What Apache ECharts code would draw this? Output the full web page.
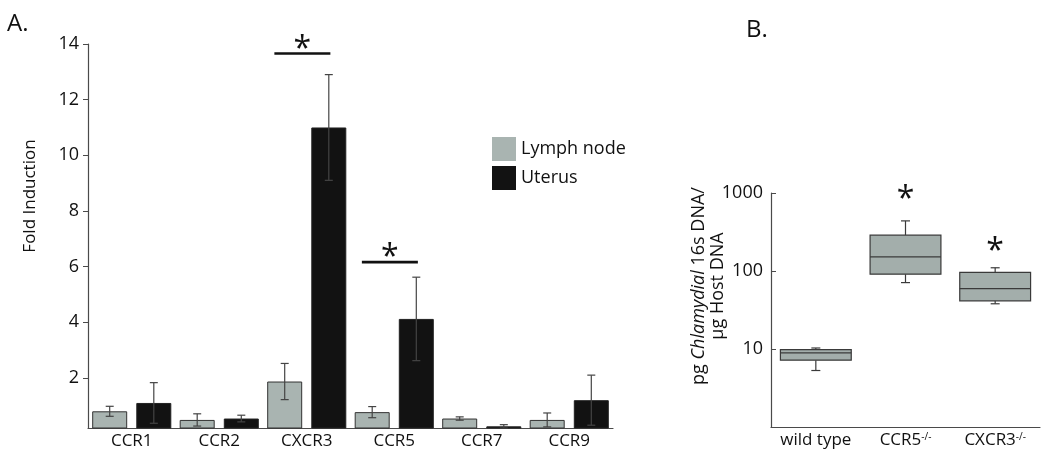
<!DOCTYPE html>
<html>
<head>
<meta charset="utf-8">
<script src="https://cdn.jsdelivr.net/npm/echarts@6/dist/echarts.min.js"></script>
<style>
  html, body { margin: 0; padding: 0; background: #fff; }
  #chart { width: 1050px; height: 469px; }
</style>
</head>
<body>
<div id="chart"></div>
<script>
// Panel A: fold induction per receptor
const receptors = ["CCR1", "CCR2", "CXCR3", "CCR5", "CCR7", "CCR9"]
const lymphNode = [0.8, 0.49, 1.87, 0.77, 0.54, 0.49]
const lymphNodeErr = [0.18, 0.22, 0.65, 0.2, 0.06, 0.25]
const uterus = [1.1, 0.54, 11.0, 4.12, 0.26, 1.2]
const uterusErr = [0.73, 0.12, 1.9, 1.5, 0.06, 0.9]
const foldTicks = [2, 4, 6, 8, 10, 12, 14]
const sigReceptor = [2, 3]
const sigLevel = [13.66, 6.16]

// Panel B: bacterial load per genotype (box plots, log scale)
const genotypes = ["wild type", "CCR5", "CXCR3"]
const genotypeSup = ["", "-/-", "-/-"]
const boxMin = [5.3, 71, 38]
const boxQ1 = [7.2, 91, 41.4]
const boxMedian = [8.9, 152, 59.4]
const boxQ3 = [9.8, 288, 96]
const boxMax = [10.3, 439, 110]
const sigGenotype = [1, 2]
const sigLoad = [1000, 215]

const FONT = "Open Sans"
const AXIS = "#4a4a4a"
const GRAY = "#a9b4b1"
const BLACK = "#121212"

const chart = echarts.init(document.getElementById("chart"))

const BAR_W = 0.4
const BAR_GAP = 0.26
const barOffset = (BAR_W * (1 + BAR_GAP)) / 2

// error bars drawn on top of bars
const errorBars = (values, errs, side, name) => ({
  type: "custom",
  name: name,
  xAxisIndex: 0,
  yAxisIndex: 0,
  z: 5,
  data: values.map((v, i) => [i, v, errs[i]]),
  renderItem: (params, api) => {
    const i = api.value(0)
    const v = api.value(1)
    const e = api.value(2)
    const bw = api.size([1, 0])[0]
    const x = api.coord([i, v])[0] + side * barOffset * bw
    const top = api.coord([i, v + e])[1]
    const bot = api.coord([i, Math.max(v - e, 0.2)])[1]
    const st = { stroke: "#444", lineWidth: 1.2 }
    return {
      type: "group",
      children: [
        { type: "line", shape: { x1: x, y1: top, x2: x, y2: bot }, style: st },
        { type: "line", shape: { x1: x - 4, y1: top, x2: x + 4, y2: top }, style: st },
        { type: "line", shape: { x1: x - 4, y1: bot, x2: x + 4, y2: bot }, style: st },
      ],
    }
  },
})

const option = {
  animation: false,
  textStyle: { fontFamily: FONT },
  legend: {
    data: ["Lymph node", "Uterus"],
    orient: "vertical",
    left: 487,
    top: 132,
    itemWidth: 24,
    itemHeight: 24,
    itemGap: 5,
    icon: "rect",
    itemStyle: { borderWidth: 0 },
    textStyle: { fontSize: 18, color: "#111", fontFamily: FONT },
  },
  grid: [
    { left: 88, top: 44, width: 525, height: 384 },
    { left: 771, top: 193, width: 269, height: 234 },
  ],
  xAxis: [
    {
      type: "category",
      gridIndex: 0,
      data: receptors,
      axisLine: { lineStyle: { color: AXIS, width: 1.2 } },
      axisTick: { length: 6, lineStyle: { color: AXIS } },
      axisLabel: { interval: 0, fontSize: 17, color: "#111", margin: 5, fontFamily: FONT },
    },
    {
      type: "category",
      gridIndex: 1,
      data: genotypes,
      axisLine: { lineStyle: { color: AXIS, width: 1.2 } },
      axisTick: { inside: true, length: 5, lineStyle: { color: AXIS } },
      axisLabel: {
        interval: 0,
        fontSize: 17,
        color: "#111",
        margin: 5,
        fontFamily: FONT,
        formatter: (value, index) =>
          genotypeSup[index] ? value + "{sup|" + genotypeSup[index] + "}" : value,
        rich: {
          sup: { fontSize: 10, color: "#111", verticalAlign: "top", fontFamily: FONT },
        },
      },
    },
  ],
  yAxis: [
    {
      type: "value",
      gridIndex: 0,
      min: 0.2,
      max: 14,
      splitLine: { show: false },
      axisLine: { show: true, lineStyle: { color: AXIS, width: 1.2 } },
      axisTick: { show: true, length: 5, customValues: foldTicks, lineStyle: { color: AXIS } },
      axisLabel: { fontSize: 18, color: "#111", margin: 9, customValues: foldTicks, fontFamily: FONT },
    },
    {
      type: "log",
      gridIndex: 1,
      logBase: 10,
      min: 1,
      max: 1000,
      splitLine: { show: false },
      minorTick: { show: false },
      axisLine: { show: true, lineStyle: { color: AXIS, width: 1.2 } },
      axisTick: { show: true, inside: true, length: 5, lineStyle: { color: AXIS } },
      axisLabel: {
        fontSize: 18,
        color: "#111",
        margin: 8,
        fontFamily: FONT,
        formatter: (v) => (v === 1 ? "" : String(v)),
      },
    },
  ],
  series: [
    {
      name: "Lymph node",
      type: "bar",
      xAxisIndex: 0,
      yAxisIndex: 0,
      data: lymphNode,
      barWidth: BAR_W * 100 + "%",
      barGap: BAR_GAP * 100 + "%",
      itemStyle: { color: GRAY, borderColor: "#333", borderWidth: 1 },
    },
    {
      name: "Uterus",
      type: "bar",
      xAxisIndex: 0,
      yAxisIndex: 0,
      data: uterus,
      barWidth: BAR_W * 100 + "%",
      barGap: BAR_GAP * 100 + "%",
      itemStyle: { color: BLACK, borderColor: "#222", borderWidth: 1 },
    },
    errorBars(lymphNode, lymphNodeErr, -1, "errLymph"),
    errorBars(uterus, uterusErr, 1, "errUterus"),
    {
      // significance bars with asterisks
      type: "custom",
      xAxisIndex: 0,
      yAxisIndex: 0,
      z: 6,
      data: sigReceptor.map((c, i) => [c, sigLevel[i]]),
      renderItem: (params, api) => {
        const p = api.coord([api.value(0), api.value(1)])
        const bw = api.size([1, 0])[0]
        const cx = p[0] - 0.05 * bw
        const half = 0.32 * bw
        return {
          type: "group",
          children: [
            { type: "line", shape: { x1: cx - half, y1: p[1], x2: cx + half, y2: p[1] }, style: { stroke: "#111", lineWidth: 2.6 } },
            {
              type: "text",
              style: { text: "*", x: cx, y: p[1] - 4, align: "center", verticalAlign: "middle", fontSize: 32, fontFamily: FONT, fill: "#111" },
            },
          ],
        }
      },
    },
    {
      // box plots
      type: "custom",
      xAxisIndex: 1,
      yAxisIndex: 1,
      data: genotypes.map((g, i) => [i, boxMin[i], boxQ1[i], boxMedian[i], boxQ3[i], boxMax[i]]),
      encode: { x: 0, y: [1, 2, 3, 4, 5] },
      renderItem: (params, api) => {
        const i = api.value(0)
        const yMin = api.coord([i, api.value(1)])[1]
        const yQ1 = api.coord([i, api.value(2)])[1]
        const yMed = api.coord([i, api.value(3)])[1]
        const yQ3 = api.coord([i, api.value(4)])[1]
        const yMax = api.coord([i, api.value(5)])[1]
        const cx = api.coord([i, 10])[0]
        const bw = api.coord([1, 10])[0] - api.coord([0, 10])[0]
        const half = 0.395 * bw
        const st = { stroke: "#3a3a3a", lineWidth: 1.2 }
        return {
          type: "group",
          children: [
            { type: "line", shape: { x1: cx, y1: yQ3, x2: cx, y2: yMax }, style: st },
            { type: "line", shape: { x1: cx - 4.5, y1: yMax, x2: cx + 4.5, y2: yMax }, style: st },
            { type: "line", shape: { x1: cx, y1: yQ1, x2: cx, y2: yMin }, style: st },
            { type: "line", shape: { x1: cx - 4.5, y1: yMin, x2: cx + 4.5, y2: yMin }, style: st },
            { type: "rect", shape: { x: cx - half, y: yQ3, width: 2 * half, height: yQ1 - yQ3 }, style: { fill: "#a3aeab", stroke: "#3a3a3a", lineWidth: 1.2 } },
            { type: "line", shape: { x1: cx - half, y1: yMed, x2: cx + half, y2: yMed }, style: st },
          ],
        }
      },
    },
    {
      // asterisks above boxes
      type: "custom",
      xAxisIndex: 1,
      yAxisIndex: 1,
      data: sigGenotype.map((g, i) => [g, sigLoad[i]]),
      renderItem: (params, api) => {
        const p = api.coord([api.value(0), api.value(1)])
        return {
          type: "text",
          style: { text: "*", x: p[0], y: p[1] + 7, align: "center", verticalAlign: "middle", fontSize: 32, fontFamily: FONT, fill: "#111" },
        }
      },
    },
  ],
  graphic: [
    { type: "text", left: 7, top: 12, style: { text: "A.", fontSize: 24, fontFamily: FONT, fill: "#111" } },
    { type: "text", left: 746, top: 18, style: { text: "B.", fontSize: 24, fontFamily: FONT, fill: "#111" } },
    {
      type: "text",
      x: 30,
      y: 196,
      rotation: Math.PI / 2,
      style: { text: "Fold Induction", fontSize: 17, fontFamily: FONT, fill: "#111", align: "center", verticalAlign: "middle" },
    },
    {
      type: "text",
      x: 708,
      y: 286,
      rotation: Math.PI / 2,
      style: {
        text: "{a|pg }{i|Chlamydial}{a| 16s DNA/}\n{a|\u00b5g Host DNA}",
        align: "center",
        verticalAlign: "middle",
        rich: {
          a: { fontSize: 18, fontFamily: FONT, fill: "#111", lineHeight: 19 },
          i: { fontSize: 18, fontFamily: FONT, fontStyle: "italic", fill: "#111", lineHeight: 19 },
        },
      },
    },
  ],
}

chart.setOption(option)
</script>
</body>
</html>
